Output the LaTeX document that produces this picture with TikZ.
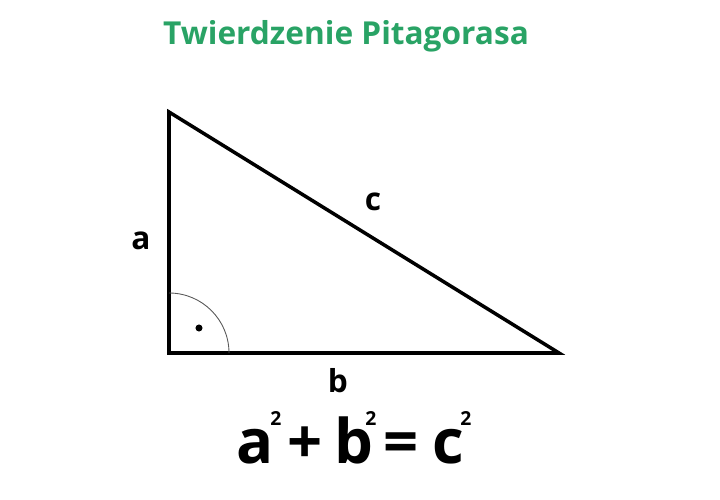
\documentclass[tikz,border=0pt]{standalone}
\usepackage{fontspec}
\setsansfont{Open Sans}
\usepackage{tikz}
\definecolor{titlegreen}{RGB}{41,163,101}
\tikzset{lbl/.style={font=\sffamily\bfseries\fontsize{18}{21}\selectfont}}
\tikzset{big/.style={font=\sffamily\bfseries\fontsize{35}{40}\selectfont, anchor=base west, inner sep=0pt}}
\tikzset{sq/.style={font=\sffamily\bfseries\fontsize{11}{13}\selectfont, anchor=base west, inner sep=0pt}}

\begin{document}
\begin{tikzpicture}[x=0.02cm, y=-0.02cm]
\useasboundingbox (0,0) rectangle (720,500);

\node[font=\sffamily\bfseries\fontsize{18}{21}\selectfont, text=titlegreen] (title) at (346,36) {Twierdzenie Pitagorasa};

\coordinate (A) at (169,112);
\coordinate (C) at (169,353);
\coordinate (B) at (559,353);
\draw[line width=2pt, line join=miter] (A) -- (C) -- (B) -- cycle;

% right angle mark
\draw[gray!70!black, line width=0.5pt] (C) ++(0,-60) arc[start angle=-90, end angle=0, radius=60];
\fill (199,328) circle [radius=2pt] coordinate (dot);

\node[lbl] (la) at (141,241) {a};
\node[lbl] (lb) at (338,381) {b};
\node[lbl] (lc) at (373,202) {c};

% a^2 + b^2 = c^2
\node[big] (fa) at (236,463) {a};
\node[sq] (sa) at (270,425) {2};
\node[big] (fp) at (287,463) {+};
\node[big] (fb) at (334,463) {b};
\node[sq] (sb) at (365,425) {2};
\node[big] (fe) at (383,463) {=};
\node[big] (fc) at (432,463) {c};
\node[sq] (sc) at (460,425) {2};

\end{tikzpicture}
\end{document}
